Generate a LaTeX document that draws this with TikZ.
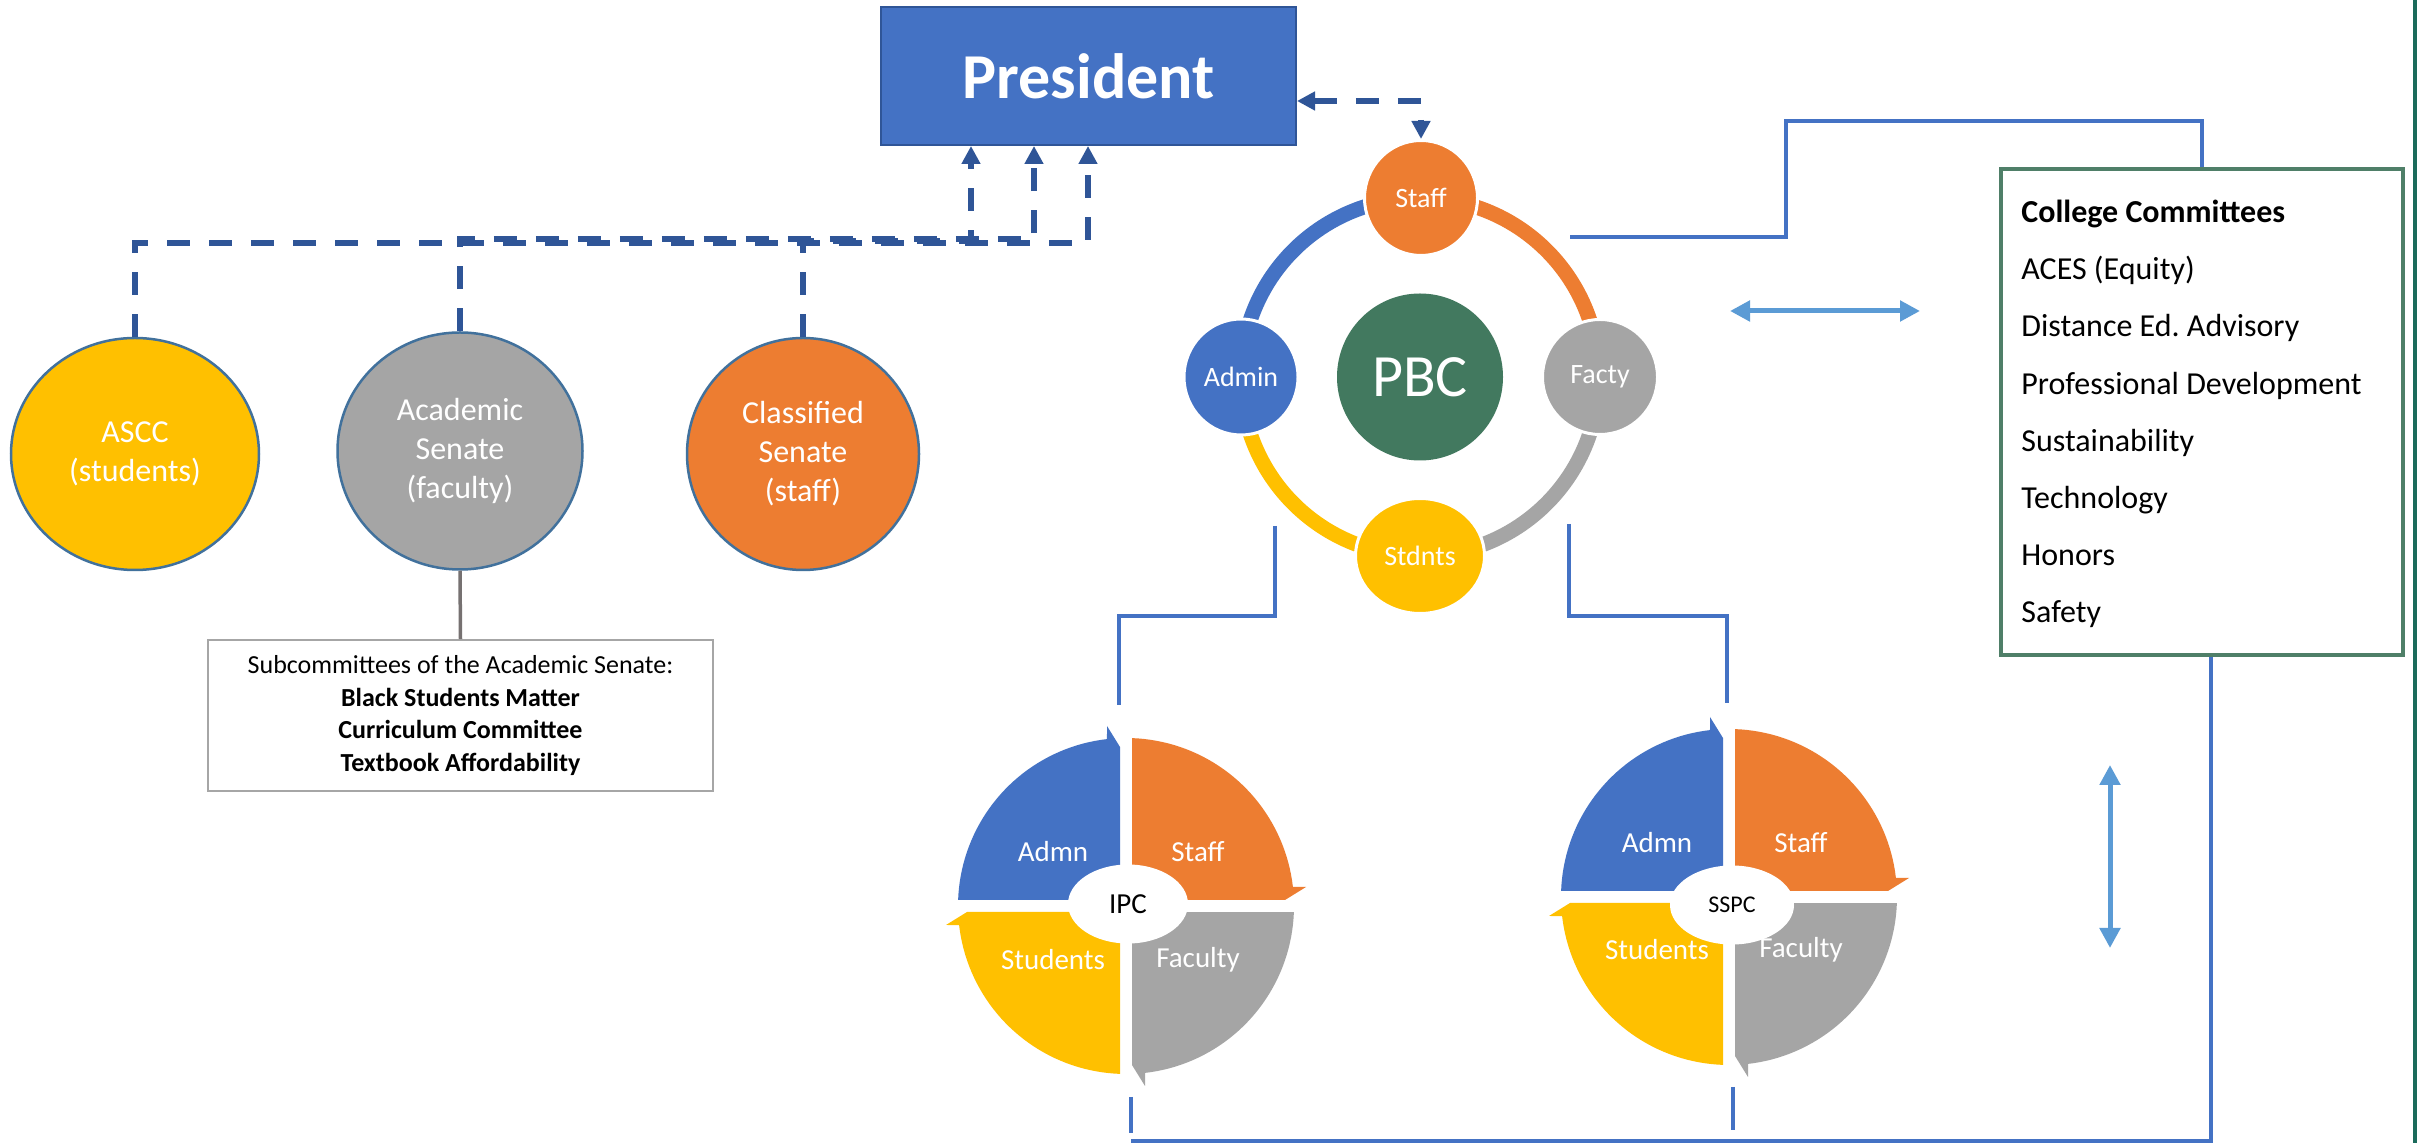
\documentclass[tikz,border=0pt]{standalone}
\usepackage{fontspec}
\setmainfont{Carlito}
\usetikzlibrary{shapes.geometric,arrows.meta,calc}
\definecolor{cblue}{HTML}{4472C4}
\definecolor{corange}{HTML}{ED7D31}
\definecolor{cgray}{HTML}{A5A5A5}
\definecolor{cyellow}{HTML}{FFC000}
\definecolor{cgreen}{HTML}{42795F}
\definecolor{dblue}{HTML}{2F5597}
\definecolor{eborder}{HTML}{41719C}
\definecolor{lblue}{HTML}{5B9BD5}
\definecolor{boxgreen}{HTML}{4F7F68}
\definecolor{edgegreen}{HTML}{1B6B5B}
\definecolor{linegray}{HTML}{767171}
\newcommand\fs[2]{\fontsize{#1}{#2}\selectfont}
\newcommand\quadfill[1]{\fill[#1] (-6,-6) -- plot[domain=182.05:263.5, samples=40] ({168*cos(\x)},{168*sin(\x)}) -- (-19,-180) -- (-6,-159) -- cycle;}
\newcommand\qcycle[2]{%
  \begin{scope}[shift={(#1,#2)}]\quadfill{cblue}\end{scope}
  \begin{scope}[shift={(#1,#2)},rotate=-90]\quadfill{corange}\end{scope}
  \begin{scope}[shift={(#1,#2)},rotate=-180]\quadfill{cgray}\end{scope}
  \begin{scope}[shift={(#1,#2)},rotate=-270]\quadfill{cyellow}\end{scope}}
\begin{document}
\begin{tikzpicture}[x=0.5pt,y=-0.5pt,
  orgell/.style={ellipse, draw=eborder, line width=1.25pt, text=white, align=center, inner sep=0pt, font=\fs{16}{19.5}},
  ringnode/.style={ellipse, draw=white, line width=1.5pt, text=white, inner sep=0pt, font=\fs{14}{17}},
  dashline/.style={draw=dblue, line width=2.8pt, dash pattern=on 11.5pt off 9.5pt},
  uptip/.style={-{Triangle[length=9pt,width=9pt]}},
  bothtip/.style={{Triangle[length=9pt,width=9pt]}-{Triangle[length=9pt,width=9pt]}},
  conn/.style={draw=cblue, line width=1.75pt},
  dbl/.style={draw=lblue, line width=2.5pt, {Triangle[length=10pt,width=10pt]}-{Triangle[length=10pt,width=10pt]}},
  qlabel/.style={text=white, font=\fs{14.5}{17}, inner sep=0pt},
]
\fill[white] (0,0) rectangle (2417,1143);
\useasboundingbox (0,0) rectangle (2417,1143);

% President
\node[fill=cblue, draw=dblue, line width=1pt, minimum width=207.5pt, minimum height=69pt, text=white, font=\fs{32}{38}\bfseries] (pres) at (1088.5,76) {President};

% Left councils
\node[orgell, fill=cyellow, minimum width=124pt, minimum height=116pt] (ascc) at (135,454) {ASCC\\(students)};
\node[orgell, fill=cgray, minimum width=122.5pt, minimum height=118.5pt] (acad) at (460,451) {Academic\\Senate\\(faculty)};
\node[orgell, fill=corange, minimum width=116pt, minimum height=116pt] (clas) at (803,454) {Classified\\Senate\\(staff)};

\node[draw=gray!70, line width=0.8pt, minimum width=252.5pt, minimum height=75.5pt, align=center, font=\fs{13}{16.25}] (sub) at (460.5,715.5) {Subcommittees of the Academic Senate:\\\textbf{Black Students Matter}\\\textbf{Curriculum Committee}\\\textbf{Textbook Affordability}};
\draw[linegray, line width=1.75pt] (acad.south) -- (sub.north);

\coordinate (a1) at (1088,243);
\coordinate (a2) at (1034,239);
\coordinate (a3) at (971,241);
\draw[dashline, uptip] (ascc.north) |- (a1) -- (a1 |- pres.south);
\draw[dashline, uptip] (acad.north) |- (a2) -- (a2 |- pres.south);
\draw[dashline, uptip] (clas.north) |- (a3) -- (a3 |- pres.south);

% PBC ring
\foreach \a/\b/\c in {180/270/cblue, 270/360/corange, 0/90/cgray, 90/180/cyellow}
  \draw[\c, line width=7.5pt] plot[domain=\a:\b, samples=60] ({1420+179*cos(\x)},{377+179*sin(\x)});
\node[ellipse, fill=cgreen, minimum width=83pt, minimum height=83.5pt, inner sep=0pt, text=white, font=\fs{30}{36}] (pbc) at (1420,377) {PBC};
\node[ringnode, fill=corange, minimum width=56.5pt, minimum height=57.5pt] (staff) at (1421,198) {Staff};
\node[ringnode, fill=cblue, minimum width=57pt, minimum height=58pt] (admin) at (1241,377) {Admin};
\node[ringnode, fill=cgray, minimum width=57.5pt, minimum height=57.5pt] (facty) at (1600,377) {Facty};
\node[ringnode, fill=cyellow, minimum width=64.5pt, minimum height=57.5pt] (stdnts) at (1420,556) {Stdnts};

\coordinate (a0) at (1300,101);
\draw[dashline, bothtip] (pres.east |- a0) -| (staff.north);

% College committees
\node[draw=boxgreen, line width=2pt, minimum width=201pt, minimum height=243pt] (cc) at (2202,412) {};
\node[align=left, anchor=west, inner sep=0pt, font=\fs{16}{28.6}] (cct) at (2021,414) {\textbf{College Committees}\\ACES (Equity)\\Distance Ed.\ Advisory\\Professional Development\\Sustainability\\Technology\\Honors\\Safety};

\coordinate (pt) at (1570,237);
\coordinate (ptc) at (1786,121);
\draw[conn] (pt) -| (ptc) -| (cc.north);

% IPC and SSPC cycles
\qcycle{1126}{906}
\node[ellipse, fill=white, minimum width=60pt, minimum height=39.5pt, inner sep=0pt, font=\fs{14.5}{17}] (ipc) at (1128,904) {IPC};
\node[qlabel] (ipcA) at (1053,852) {Admn};
\node[qlabel] (ipcS) at (1198,852) {Staff};
\node[qlabel] (ipcT) at (1053,960) {Students};
\node[qlabel] (ipcF) at (1198,960) {Faculty};

\qcycle{1729}{897}
\node[ellipse, fill=white, minimum width=62pt, minimum height=39.5pt, inner sep=0pt, font=\fs{12}{14}] (sspc) at (1732,905) {SSPC};
\node[qlabel] (sspcA) at (1657,843) {Admn};
\node[qlabel] (sspcS) at (1801,843) {Staff};
\node[qlabel] (sspcT) at (1657,950) {Students};
\node[qlabel] (sspcF) at (1801,950) {Faculty};

% connectors from PBC to cycles
\coordinate (pl) at (1275,526);
\coordinate (ipctop) at (1119,705);
\draw[conn] (pl) -- ++(0,90) -| (ipctop);
\coordinate (pr) at (1569,524);
\coordinate (ssptop) at (1727,703);
\draw[conn] (pr) -- ++(0,92) -| (ssptop);

% bottom connector
\coordinate (ccb) at ($(cc.south)+(9,0)$);
\coordinate (bl) at (1131,1141);
\draw[conn] (ccb) |- (bl);
\coordinate (ib1) at (1131,1097);
\coordinate (ib2) at (1131,1133);
\draw[conn] (ib1) -- (ib2);
\coordinate (sb1) at (1733,1087);
\coordinate (sb2) at (1733,1130);
\draw[conn] (sb1) -- (sb2);

% light blue double arrows
\coordinate (h1) at (1730,311);
\coordinate (h2) at (1920,311);
\draw[dbl] (h1) -- (h2);
\coordinate (v1) at (2110,765);
\coordinate (v2) at (2110,948);
\draw[dbl] (v1) -- (v2);

% right page edge
\coordinate (e1) at (2415,0);
\coordinate (e2) at (2415,1143);
\draw[edgegreen, line width=2pt] (e1) -- (e2);
\end{tikzpicture}
\end{document}
